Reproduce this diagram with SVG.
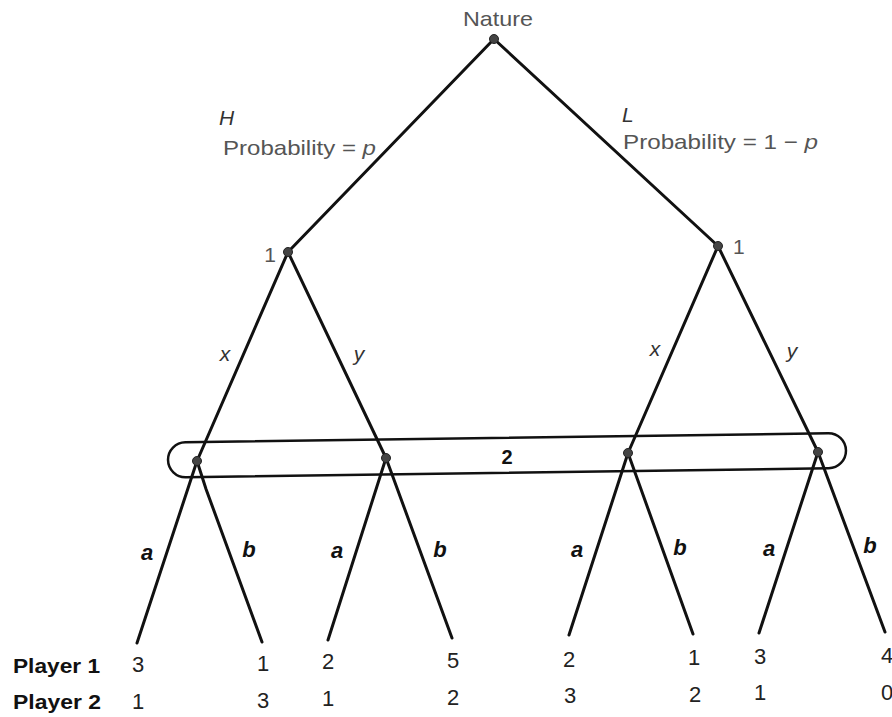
<svg xmlns="http://www.w3.org/2000/svg" width="892" height="717" viewBox="0 0 892 717">
<style>
.e{stroke:#111;stroke-width:3;fill:none;stroke-linecap:round}
.n{fill:#444;stroke:#222;stroke-width:1}
.g{font-family:"Liberation Sans",Arial,sans-serif;fill:#555;font-size:21px}
.it{font-family:"Liberation Sans",Arial,sans-serif;font-style:italic;fill:#333;font-size:21px}
.ab{font-family:"Liberation Sans",Arial,sans-serif;font-style:italic;font-weight:bold;fill:#111;font-size:22px;text-anchor:middle}
.num{font-family:"Liberation Sans",Arial,sans-serif;fill:#222;font-size:22px;text-anchor:middle}
.pl{font-family:"Liberation Sans",Arial,sans-serif;font-weight:bold;fill:#111;font-size:21px}
</style>
<rect width="892" height="717" fill="#fff"/>
<g id="connectors">
<line class="e" x1="494" y1="39" x2="288" y2="252"/>
<line class="e" x1="494" y1="39" x2="718" y2="246"/>
<line class="e" x1="288" y1="252" x2="197" y2="461"/>
<line class="e" x1="288" y1="252" x2="386" y2="458"/>
<line class="e" x1="718" y1="246" x2="628" y2="453"/>
<line class="e" x1="718" y1="246" x2="818" y2="452"/>
<line class="e" x1="197" y1="461" x2="137" y2="643"/>
<polyline class="e" points="197,461 206,489 262,642"/>
<line class="e" x1="386" y1="458" x2="328" y2="640"/>
<line class="e" x1="386" y1="458" x2="452" y2="638"/>
<line class="e" x1="628" y1="453" x2="569" y2="635"/>
<line class="e" x1="628" y1="453" x2="693" y2="634"/>
<line class="e" x1="818" y1="452" x2="759" y2="633"/>
<line class="e" x1="818" y1="452" x2="885" y2="632"/>
</g>
<g id="edge-labels">
<text class="it" x="219" y="125">H</text>
<text class="g" x="223" y="155" textLength="153" lengthAdjust="spacingAndGlyphs">Probability = <tspan font-style="italic">p</tspan></text>
<text class="it" x="622" y="122">L</text>
<text class="g" x="623" y="149" textLength="195" lengthAdjust="spacingAndGlyphs">Probability = 1 − <tspan font-style="italic">p</tspan></text>
<text class="it" x="225" y="361" text-anchor="middle">x</text>
<text class="it" x="359" y="361" text-anchor="middle">y</text>
<text class="it" x="655" y="356" text-anchor="middle">x</text>
<text class="it" x="792" y="358" text-anchor="middle">y</text>
<text class="ab" x="147" y="560">a</text>
<text class="ab" x="249" y="557">b</text>
<text class="ab" x="337" y="558">a</text>
<text class="ab" x="440" y="557">b</text>
<text class="ab" x="577" y="557">a</text>
<text class="ab" x="680" y="555">b</text>
<text class="ab" x="769" y="556">a</text>
<text class="ab" x="870" y="553">b</text>
</g>
<g id="nature">
<text class="g" x="463" y="26" textLength="70" lengthAdjust="spacingAndGlyphs">Nature</text>
<circle class="n" cx="494" cy="39" r="4.5"/>
</g>
<g id="p1-left">
<circle class="n" cx="288" cy="252" r="4.5"/>
<text class="g" x="276" y="262" text-anchor="end">1</text>
</g>
<g id="p1-right">
<circle class="n" cx="718" cy="246" r="4.5"/>
<text class="g" x="733" y="254">1</text>
</g>
<g id="info-set-2">
<rect x="-339" y="-17.5" width="678" height="35" rx="17.5" fill="none" stroke="#111" stroke-width="2.5" transform="translate(507 455.25) rotate(-0.8)"/>
<text class="pl" x="507" y="464" text-anchor="middle" style="font-size:20px">2</text>
<circle class="n" cx="197" cy="461" r="4.5"/>
<circle class="n" cx="386" cy="458" r="4.5"/>
<circle class="n" cx="628" cy="453" r="4.5"/>
<circle class="n" cx="818" cy="452" r="4.5"/>
</g>
<g id="payoffs">
<text class="pl" x="13" y="673" textLength="87" lengthAdjust="spacingAndGlyphs">Player 1</text>
<text class="pl" x="13" y="709" textLength="88" lengthAdjust="spacingAndGlyphs">Player 2</text>
<text class="num" x="138" y="672">3</text>
<text class="num" x="263" y="671" fill="#666">1</text>
<text class="num" x="328" y="669">2</text>
<text class="num" x="453" y="668">5</text>
<text class="num" x="569" y="667">2</text>
<text class="num" x="694" y="665" fill="#666">1</text>
<text class="num" x="760" y="664">3</text>
<text class="num" x="887" y="663" fill="#666">4</text>
<text class="num" x="138" y="709">1</text>
<text class="num" x="263" y="708">3</text>
<text class="num" x="328" y="706">1</text>
<text class="num" x="453" y="705">2</text>
<text class="num" x="570" y="703">3</text>
<text class="num" x="695" y="702">2</text>
<text class="num" x="760" y="700">1</text>
<text class="num" x="887" y="700">0</text>
</g>
</svg>
